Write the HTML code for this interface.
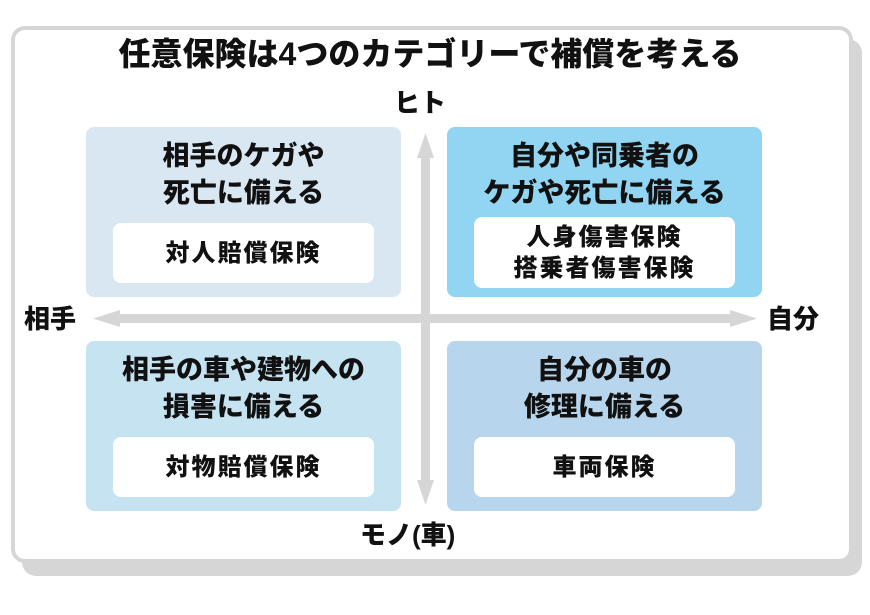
<!DOCTYPE html>
<html><head><meta charset="utf-8"><style>
*{margin:0;padding:0;box-sizing:border-box}
body{width:870px;height:615px;background:#fff;position:relative;overflow:hidden;font-family:"Liberation Sans","Noto Sans CJK JP",sans-serif;font-weight:900;color:#111}
.a{position:absolute}
.box{position:absolute;border-radius:8px;width:315px;height:170px}
.h{position:absolute;left:0;width:100%;text-align:center;font-size:27px;line-height:37px;top:11px}
.in{position:absolute;left:27px;width:261px;background:#fff;border-radius:8px;display:flex;align-items:center;justify-content:center;text-align:center;font-size:24px;line-height:31px;letter-spacing:2px}
.lbl{position:absolute;font-size:26px;line-height:30px}
</style></head><body>
<div class="a" style="left:22px;top:39px;width:840px;height:537px;background:#d6d6d6;border-radius:14px"></div>
<div class="a" style="left:11px;top:26px;width:842px;height:537px;background:#fff;border:4px solid #d6d6d6;border-radius:14px"></div>
<div class="a" style="left:0;width:860px;top:34px;text-align:center;font-size:32px;line-height:40px">任意保険は4つのカテゴリーで補償を考える</div>
<div class="lbl" style="left:394px;top:88px">ヒト</div>
<div class="lbl" style="left:360px;top:520px">モノ(車)</div>
<div class="lbl" style="left:24px;top:304px">相手</div>
<div class="lbl" style="left:767px;top:304px">自分</div>
<svg class="a" style="left:0;top:0" width="870" height="615">
<g fill="#d6d6d6">
<rect x="421" y="155" width="9" height="330"/>
<polygon points="425.5,133 417,158 434,158"/>
<polygon points="425.5,505 417,480 434,480"/>
<rect x="115" y="314" width="620" height="9"/>
<polygon points="93,318.5 120,310 120,327"/>
<polygon points="757,318.5 730,310 730,327"/>
</g>
</svg>
<div class="box" style="left:86px;top:127px;background:#d9e7f3">
<div class="h">相手のケガや<br>死亡に備える</div>
<div class="in" style="top:96px;height:60px">対人賠償保険</div></div>
<div class="box" style="left:447px;top:127px;background:#92d5f2">
<div class="h">自分や同乗者の<br>ケガや死亡に備える</div>
<div class="in" style="top:90px;height:71px">人身傷害保険<br>搭乗者傷害保険</div></div>
<div class="box" style="left:86px;top:341px;background:#c6e3f2">
<div class="h">相手の車や建物への<br>損害に備える</div>
<div class="in" style="top:96px;height:60px">対物賠償保険</div></div>
<div class="box" style="left:447px;top:341px;background:#b7d5ec">
<div class="h">自分の車の<br>修理に備える</div>
<div class="in" style="top:96px;height:60px">車両保険</div></div>
</body></html>
